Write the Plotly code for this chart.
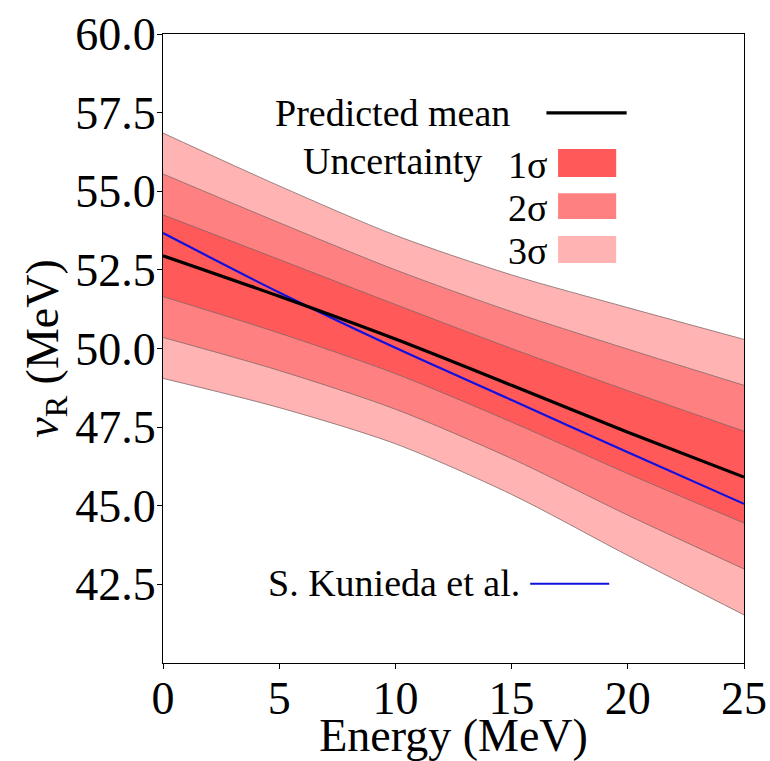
import plotly.graph_objects as go

# Data
energy = [0, 5, 10, 15, 20, 25]
pred_mean = [52.95, 51.66, 50.30, 48.83, 47.34, 45.91]
kunieda = [53.67, 51.78, 50.02, 48.36, 46.70, 45.06]

s1_upper = [54.25, 52.83, 51.40, 50.00, 48.66, 47.37]
s1_lower = [51.65, 50.49, 49.20, 47.66, 46.02, 44.45]
s2_upper = [55.55, 54.00, 52.50, 51.17, 49.98, 48.83]
s2_lower = [50.35, 49.30, 48.07, 46.50, 44.70, 42.99]
s3_upper = [56.85, 55.17, 53.60, 52.34, 51.30, 50.29]
s3_lower = [49.05, 48.12, 46.97, 45.36, 43.42, 41.53]

x_ticks = [0, 5, 10, 15, 20, 25]
y_ticks = [42.5, 45.0, 47.5, 50.0, 52.5, 55.0, 57.5, 60.0]

C1 = "#FF5959"
C2 = "#FF8080"
C3 = "#FFB3B3"
EDGE = "rgba(120,100,100,0.75)"
FONT = "'Liberation Serif', 'Times New Roman', Times, serif"

fig = go.Figure()

bands = [(s3_lower, s3_upper, C3), (s2_lower, s2_upper, C2), (s1_lower, s1_upper, C1)]
for lo, up, col in bands:
    fig.add_trace(go.Scatter(x=energy, y=lo, mode="lines",
                             line=dict(color=EDGE, width=1, shape="spline", smoothing=0.8),
                             showlegend=False, hoverinfo="skip"))
    fig.add_trace(go.Scatter(x=energy, y=up, mode="lines", fill="tonexty",
                             fillcolor=col,
                             line=dict(color=EDGE, width=1, shape="spline", smoothing=0.8),
                             showlegend=False, hoverinfo="skip"))

fig.add_trace(go.Scatter(x=energy, y=kunieda, mode="lines",
                         line=dict(color="#1010E0", width=2.2, shape="spline", smoothing=0.8),
                         showlegend=False))
fig.add_trace(go.Scatter(x=energy, y=pred_mean, mode="lines",
                         line=dict(color="black", width=3.2, shape="spline", smoothing=0.8),
                         showlegend=False))

# Custom legend
legend_font = dict(family=FONT, size=38, color="black")
fig.add_annotation(x=15.0, y=57.49, xref="x", yref="y", text="Predicted mean",
                   showarrow=False, xanchor="right", yanchor="middle", font=legend_font)
fig.add_shape(type="line", x0=16.5, x1=19.95, y0=57.49, y1=57.49, xref="x", yref="y",
              line=dict(color="black", width=3.2))
fig.add_annotation(x=13.8, y=55.95, xref="x", yref="y", text="Uncertainty",
                   showarrow=False, xanchor="right", yanchor="middle", font=legend_font)
sw = [("1σ", 56.34, 55.45, C1), ("2σ", 54.94, 54.12, C2), ("3σ", 53.58, 52.72, C3)]
for lab, y1, y0, col in sw:
    fig.add_annotation(x=16.6, y=(y0 + y1) / 2 - 0.05, xref="x", yref="y", text=lab,
                       showarrow=False, xanchor="right", yanchor="middle", font=legend_font)
    fig.add_shape(type="rect", x0=17.0, x1=19.5, y0=y0, y1=y1, xref="x", yref="y",
                  line=dict(width=0), fillcolor=col)
fig.add_annotation(x=15.45, y=42.55, xref="x", yref="y", text="S. Kunieda et al.",
                   showarrow=False, xanchor="right", yanchor="middle", font=legend_font)
fig.add_shape(type="line", x0=15.8, x1=19.2, y0=42.52, y1=42.52, xref="x", yref="y",
              line=dict(color="#1010E0", width=2.2))

fig.update_layout(
    width=770, height=761,
    margin=dict(l=163, r=26, t=34, b=98, autoexpand=False),
    plot_bgcolor="white", paper_bgcolor="white",
    font=dict(family=FONT, size=46, color="black"),
    showlegend=False,
    xaxis=dict(
        range=[0, 25], tickvals=x_ticks, ticktext=[str(v) for v in x_ticks],
        ticks="outside", ticklen=5, tickcolor="black", automargin=True,
        ticklabelstandoff=-10,
        showline=True, linecolor="black", linewidth=1, mirror=True,
        showgrid=False, zeroline=False,
        tickfont=dict(family=FONT, size=46, color="black"),
        title=dict(text="Energy (MeV)", font=dict(family=FONT, size=46, color="black"),
                   standoff=0),
    ),
    yaxis=dict(
        range=[40, 60], tickvals=y_ticks, ticktext=[f"{v:.1f}" for v in y_ticks],
        ticks="outside", ticklen=5, tickcolor="black", automargin=True,
        ticklabelstandoff=-8,
        showline=True, linecolor="black", linewidth=1, mirror=True,
        showgrid=False, zeroline=False,
        tickfont=dict(family=FONT, size=46, color="black"),
        title=dict(text="<i>ν</i><sub>R</sub> (MeV)", font=dict(family=FONT, size=46, color="black"),
                   standoff=2),
    ),
)

fig.write_html("out.html")
